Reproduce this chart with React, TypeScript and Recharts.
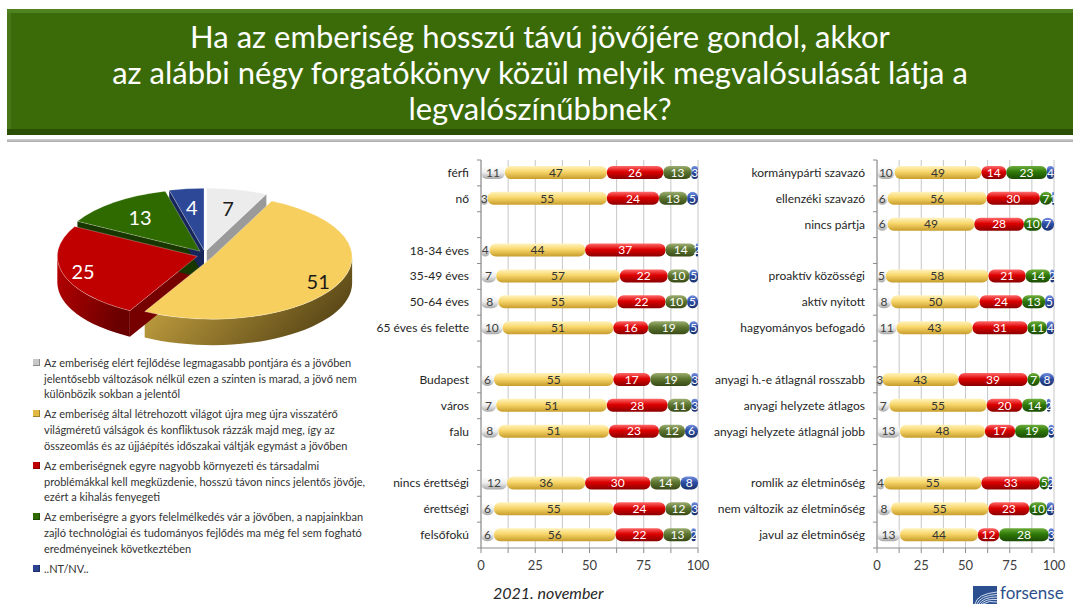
import React from 'react';
import { BarChart, Bar, XAxis, YAxis, CartesianGrid, LabelList, PieChart, Pie, Legend } from 'recharts';

const FONT = 'Lato, "Open Sans", sans-serif';

// ---- pie: overall answer split ----
const pieNames = [
    'Az emberiség elért fejlődése legmagasabb pontjára és a jövőben\njelentősebb változások nélkül ezen a szinten is marad, a jövő nem\nkülönbözik sokban a jelentől',
    'Az emberiség által létrehozott világot újra meg újra visszatérő\nvilágméretű válságok és konfliktusok rázzák majd meg, így az\nösszeomlás és az újjáépítés időszakai váltják egymást a jövőben',
    'Az emberiségnek egyre nagyobb környezeti és társadalmi\nproblémákkal kell megküzdenie, hosszú távon nincs jelentős jövője,\nezért a kihalás fenyegeti',
    'Az emberiségre a gyors felelmélkedés vár a jövőben, a napjainkban\nzajló technológiai és tudományos fejlődés ma még fel sem fogható\neredményeinek következtében',
    '..NT/NV..',
];
const pieValues = [7, 51, 25, 13, 4];

// ---- left bars ----
const leftCategories = ['férfi', 'nő', '', '18-34 éves', '35-49 éves', '50-64 éves', '65 éves és felette', '', 'Budapest', 'város', 'falu', '', 'nincs érettségi', 'érettségi', 'felsőfokú'];
const leftStagnal = [11, 3, null, 4, 7, 8, 10, null, 6, 7, 8, null, 12, 6, 6];
const leftValsag = [47, 55, null, 44, 57, 55, 51, null, 55, 51, 51, null, 36, 55, 56];
const leftKihalas = [26, 24, null, 37, 22, 22, 16, null, 17, 28, 23, null, 30, 24, 22];
const leftFelemel = [13, 13, null, 14, 10, 10, 19, null, 19, 11, 12, null, 14, 12, 13];
const leftNtnv = [3, 5, null, 2, 5, 5, 5, null, 3, 3, 6, null, 8, 3, 2];

// ---- right bars ----
const rightCategories = ['kormánypárti szavazó', 'ellenzéki szavazó', 'nincs pártja', '', 'proaktív közösségi', 'aktív nyitott', 'hagyományos befogadó', '', 'anyagi h.-e átlagnál rosszabb', 'anyagi helyzete átlagos', 'anyagi helyzete átlagnál jobb', '', 'romlik az életminőség', 'nem változik az életminőség', 'javul az életminőség'];
const rightStagnal = [10, 6, 6, null, 5, 8, 11, null, 3, 7, 13, null, 4, 8, 13];
const rightValsag = [49, 56, 49, null, 58, 50, 43, null, 43, 55, 48, null, 55, 55, 44];
const rightKihalas = [14, 30, 28, null, 21, 24, 31, null, 39, 20, 17, null, 33, 23, 12];
const rightFelemel = [23, 7, 10, null, 14, 13, 11, null, 7, 14, 19, null, 5, 10, 28];
const rightNtnv = [4, 1, 7, null, 2, 5, 4, null, 8, 2, 3, null, 2, 4, 3];

const xTicks = [0, 12.5, 25, 37.5, 50, 62.5, 75, 87.5, 100];

const build = (cats: string[], a: any[], b: any[], c: any[], d: any[], e: any[]) =>
    cats.map((name, i) => ({ name, a: a[i], b: b[i], c: c[i], d: d[i], e: e[i] }));

const leftData = build(leftCategories, leftStagnal, leftValsag, leftKihalas, leftFelemel, leftNtnv);
const rightData = build(rightCategories, rightStagnal, rightValsag, rightKihalas, rightFelemel, rightNtnv);

const PLOT_H = 388;
const BAND = PLOT_H / 15;
const AXIS = '#8c8c8c';

const barDefs = (
    <defs>
        <linearGradient id="gWhite" x1="0" y1="0" x2="0" y2="1">
            <stop offset="0%" stopColor="#ffffff" />
            <stop offset="50%" stopColor="#eeeeee" />
            <stop offset="100%" stopColor="#a9a9a9" />
        </linearGradient>
        <linearGradient id="gYellow" x1="0" y1="0" x2="0" y2="1">
            <stop offset="0%" stopColor="#fff4bf" />
            <stop offset="45%" stopColor="#f8d66a" />
            <stop offset="100%" stopColor="#c79d2c" />
        </linearGradient>
        <linearGradient id="gRed" x1="0" y1="0" x2="0" y2="1">
            <stop offset="0%" stopColor="#ff6b6b" />
            <stop offset="45%" stopColor="#dc0000" />
            <stop offset="100%" stopColor="#8a0000" />
        </linearGradient>
        <linearGradient id="gOlive" x1="0" y1="0" x2="0" y2="1">
            <stop offset="0%" stopColor="#9cae70" />
            <stop offset="45%" stopColor="#5d7630" />
            <stop offset="100%" stopColor="#384a17" />
        </linearGradient>
        <linearGradient id="gGreen" x1="0" y1="0" x2="0" y2="1">
            <stop offset="0%" stopColor="#6fae3e" />
            <stop offset="45%" stopColor="#2f7a08" />
            <stop offset="100%" stopColor="#1c4b04" />
        </linearGradient>
        <linearGradient id="gBlue" x1="0" y1="0" x2="0" y2="1">
            <stop offset="0%" stopColor="#7590e0" />
            <stop offset="45%" stopColor="#2e4fa6" />
            <stop offset="100%" stopColor="#19306c" />
        </linearGradient>
    </defs>
);

function makeCatTick(margin: number) {
    return (props: any) => {
        const { x, y, payload, index, visibleTicksCount } = props;
        const ax = x + margin;
        return (
            <g>
                <line x1={ax - 4} x2={ax} y1={y - BAND / 2} y2={y - BAND / 2} stroke={AXIS} />
                {index === visibleTicksCount - 1 && (
                    <line x1={ax - 4} x2={ax} y1={y + BAND / 2} y2={y + BAND / 2} stroke={AXIS} />
                )}
                <text x={x} y={y} dy={4} textAnchor="end" fontSize={12} fill="#262626" fontFamily={FONT}>
                    {payload.value}
                </text>
            </g>
        );
    };
}

function StackedBars({ data, yWidth, width, right, greenFill }: any) {
    const lbl = { fontSize: 12, fontFamily: FONT };
    return (
        <BarChart
            width={width}
            height={435}
            data={data}
            layout="vertical"
            barSize={13}
            margin={{ top: 10, right, bottom: 7, left: 0 }}
        >
            {barDefs}
            <CartesianGrid vertical horizontal={false} stroke="#c6c6c6" />
            <XAxis
                type="number"
                domain={[0, 100]}
                ticks={xTicks}
                interval={0}
                allowDataOverflow
                tickFormatter={(v: number) => (v % 25 === 0 ? String(v) : '')}
                axisLine={{ stroke: AXIS }}
                tickLine={{ stroke: AXIS }}
                tickSize={5}
                tickMargin={8}
                height={30}
                tick={{ fontSize: 13, fill: '#404040', fontFamily: FONT }}
            />
            <YAxis
                type="category"
                dataKey="name"
                width={yWidth}
                interval={0}
                tickSize={0}
                tickMargin={12}
                tickLine={false}
                axisLine={{ stroke: AXIS }}
                tick={makeCatTick(12)}
            />
            <Bar dataKey="a" stackId="s" fill="url(#gWhite)" radius={6} isAnimationActive={false}>
                <LabelList dataKey="a" position="center" fill="#404040" {...lbl} />
            </Bar>
            <Bar dataKey="b" stackId="s" fill="url(#gYellow)" radius={6} isAnimationActive={false}>
                <LabelList dataKey="b" position="center" fill="#333333" {...lbl} />
            </Bar>
            <Bar dataKey="c" stackId="s" fill="url(#gRed)" radius={6} isAnimationActive={false}>
                <LabelList dataKey="c" position="center" fill="#ffffff" {...lbl} />
            </Bar>
            <Bar dataKey="d" stackId="s" fill={greenFill} radius={6} isAnimationActive={false}>
                <LabelList dataKey="d" position="center" fill="#ffffff" {...lbl} />
            </Bar>
            <Bar dataKey="e" stackId="s" fill="url(#gBlue)" radius={6} isAnimationActive={false}>
                <LabelList dataKey="e" position="center" fill="#ffffff" {...lbl} />
            </Bar>
        </BarChart>
    );
}

// ---- 3D pie drawing ----
const RX = 140, RY = 62, DEPTH = 26, EXPLODE = 8;
const RAD = Math.PI / 180;
const pieTop = ['#ececec', '#f6cf5f', '#c00000', '#2f6a00', '#2d4897'];
const pieWall = ['#9a9a9a', '#8a7028', '#760000', '#173600', '#16265a'];
const pieText = ['#1a1a1a', '#1a1a1a', '#ffffff', '#ffffff', '#ffffff'];
const sideStops = [
    ['#cfcfcf', '#8e8e8e'],
    ['#d9b348', '#5e4b18'],
    ['#b80000', '#6a0000'],
    ['#2a5a05', '#122a00'],
    ['#2a4590', '#142255'],
];
const legendMarks = ['#c8c8c8', '#e2b944', '#c00000', '#2f6a00', '#2b4390'];

const pt = (cx: number, cy: number, a: number, dy = 0) =>
    `${cx + RX * Math.cos(a * RAD)},${cy - RY * Math.sin(a * RAD) + dy}`;

function geom(props: any) {
    const { cx, cy, startAngle, endAngle } = props;
    const mid = (startAngle + endAngle) / 2;
    const x0 = cx + EXPLODE * Math.cos(mid * RAD);
    const y0 = cy - EXPLODE * 0.6 * Math.sin(mid * RAD);
    return { x0, y0, mid, a1: Math.min(startAngle, endAngle), a2: Math.max(startAngle, endAngle) };
}

function renderSides(props: any) {
    const { index } = props;
    const { x0, y0, a1, a2 } = geom(props);
    const parts: any[] = [];
    [[a1, a1 - 90], [a2, a2 + 90]].forEach(([a, n], k) => {
        if (Math.sin(n * RAD) < -0.01) {
            parts.push(
                <path key={'w' + k} fill={pieWall[index]}
                    d={`M${x0},${y0} L${pt(x0, y0, a)} L${pt(x0, y0, a, DEPTH)} L${x0},${y0 + DEPTH} Z`} />
            );
        }
    });
    for (let k = -2; k <= 1; k++) {
        const b1 = Math.max(a1, -180 + 360 * k);
        const b2 = Math.min(a2, 360 * k);
        if (b2 - b1 > 0.1) {
            parts.push(
                <path key={'s' + k} fill={`url(#pSide${index})`}
                    d={`M${pt(x0, y0, b1)} A${RX},${RY} 0 0 0 ${pt(x0, y0, b2)} L${pt(x0, y0, b2, DEPTH)} A${RX},${RY} 0 0 1 ${pt(x0, y0, b1, DEPTH)} Z`} />
            );
        }
    }
    return <g>{parts}</g>;
}

function renderTop(props: any) {
    const { index } = props;
    const { x0, y0, a1, a2 } = geom(props);
    const large = a2 - a1 > 180 ? 1 : 0;
    return (
        <path fill={pieTop[index]} stroke="rgba(255,255,255,0.35)" strokeWidth={0.8}
            d={`M${x0},${y0} L${pt(x0, y0, a1)} A${RX},${RY} 0 ${large} 0 ${pt(x0, y0, a2)} Z`} />
    );
}

function renderPieLabel(props: any) {
    const { index, value, percent } = props;
    const { x0, y0, mid } = geom(props);
    const r = percent > 0.2 ? 0.85 : 0.7;
    return (
        <text x={x0 + RX * r * Math.cos(mid * RAD)} y={y0 - RY * r * Math.sin(mid * RAD)}
            textAnchor="middle" dominantBaseline="central" fontSize={20} fontFamily={FONT} fill={pieText[index]}>
            {value}
        </text>
    );
}

function PieLegend() {
    return (
        <div style={{ fontFamily: FONT, fontSize: 11, lineHeight: '15.7px', color: '#333333' }}>
            {pieNames.map((n, i) => (
                <div key={i} style={{ display: 'flex', marginBottom: 4.3 }}>
                    <span style={{ width: 7, height: 7, marginTop: 4, marginRight: 4, flex: 'none', background: legendMarks[i], boxShadow: 'inset -1px -1px 0 rgba(0,0,0,0.3)' }} />
                    <span style={{ whiteSpace: 'pre-line' }}>{n}</span>
                </div>
            ))}
        </div>
    );
}

export default function App() {
    const pieData = pieNames.map((name, i) => ({ name, value: pieValues[i] }));
    const common = {
        data: pieData, dataKey: 'value', nameKey: 'name', cx: 205, cy: 105, outerRadius: 100,
        startAngle: 90, endAngle: -270, fill: 'transparent', stroke: 'none', labelLine: false,
        isAnimationActive: false,
    };
    return (
        <div style={{ position: 'absolute', left: 0, top: 0, width: 1073, height: 605, background: '#fff', overflow: 'hidden', fontFamily: FONT }}>
            {/* title banner */}
            <div style={{
                position: 'absolute', left: 7, top: 9, width: 1066, height: 126, background: '#3b6b08',
                boxShadow: 'inset 0 4px 0 #4f8220, inset 0 -6px 0 #2a4f05, inset 4px 0 0 #467818',
                color: '#fff', textAlign: 'center', fontSize: 31, lineHeight: '36px',
                display: 'flex', flexDirection: 'column', justifyContent: 'center',
            }}>
                <div>Ha az emberiség hosszú távú jövőjére gondol, akkor</div>
                <div>az alábbi négy forgatókönyv közül melyik megvalósulását látja a</div>
                <div>legvalószínűbbnek?</div>
            </div>
            <div style={{ position: 'absolute', left: 7, top: 139, width: 1066, height: 3, background: 'linear-gradient(#d4d4d4, #a8a8a8)' }} />

            {/* pie + legend */}
            <div style={{ position: 'absolute', left: 0, top: 150 }}>
                <PieChart width={400} height={440} margin={{ top: 0, right: 0, bottom: 0, left: 0 }}>
                    <defs>
                        {sideStops.map((s, i) => (
                            <linearGradient key={i} id={`pSide${i}`} x1="0" y1="0" x2="1" y2="0.4">
                                <stop offset="0%" stopColor={s[0]} />
                                <stop offset="100%" stopColor={s[1]} />
                            </linearGradient>
                        ))}
                    </defs>
                    <Pie {...common} label={renderSides} legendType="none" />
                    <Pie {...common} label={renderTop} legendType="none" />
                    <Pie {...common} label={renderPieLabel} legendType="none" />
                    <Legend content={() => <PieLegend />} wrapperStyle={{ left: 33, top: 205, width: 367 }} />
                </PieChart>
            </div>

            {/* left bars */}
            <div style={{ position: 'absolute', left: 370, top: 150 }}>
                <StackedBars data={leftData} yWidth={111} width={350} right={22} greenFill="url(#gOlive)" />
            </div>

            {/* right bars */}
            <div style={{ position: 'absolute', left: 705, top: 150 }}>
                <StackedBars data={rightData} yWidth={172} width={368} right={19} greenFill="url(#gGreen)" />
            </div>

            <div style={{ position: 'absolute', left: 493, top: 583, fontSize: 16, fontStyle: 'italic', color: '#262626' }}>
                2021. november
            </div>

            {/* logo */}
            <svg style={{ position: 'absolute', left: 973, top: 584 }} width={100} height={20}>
                <rect x={0} y={2} width={24} height={18} fill="#2c4f8f" />
                {[0, 1, 2, 3, 4].map((k) => (
                    <path key={k} d={`M${2 + k * 2},20 Q${4 + k * 3},${10 + k * 1.5} 24,${8 + k * 2.5}`} stroke="#cfdcf0" strokeWidth={1} fill="none" />
                ))}
                <text x={27} y={15} fontSize={17} fill="#2c4f8a" fontFamily={FONT}>forsense</text>
            </svg>
        </div>
    );
}
